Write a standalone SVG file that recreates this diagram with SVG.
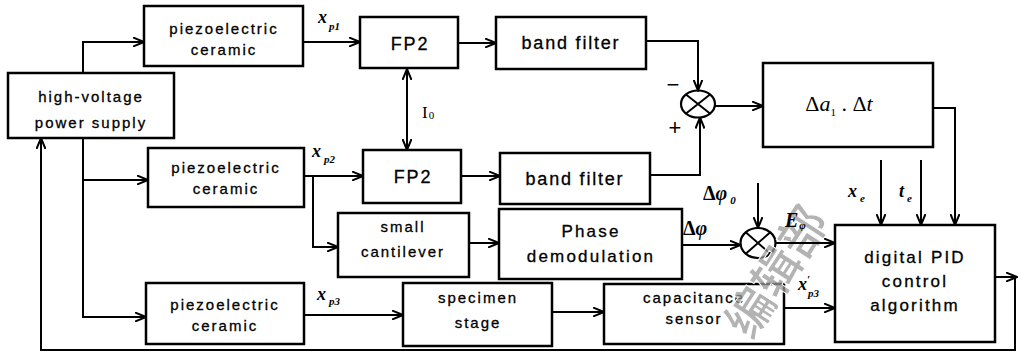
<svg xmlns="http://www.w3.org/2000/svg" width="1021" height="352" viewBox="0 0 1021 352">
  <style>
    .box { fill: #fff; stroke: #000; stroke-width: 2.5; }
    .wire { fill: none; stroke: #000; stroke-width: 2; }
    .lbl { font-family: "Liberation Sans", Arial, sans-serif; font-size: 15px; letter-spacing: 2px; text-anchor: middle; fill: #000; stroke: #000; stroke-width: 0.3; }
    .big { font-size: 18px; letter-spacing: 1.8px; }
    .mid { font-size: 17px; letter-spacing: 2.2px; }
    .math { font-family: "Liberation Serif", "Times New Roman", serif; font-style: italic; font-weight: bold; fill: #000; }
    .plain { font-family: "Liberation Serif", "Times New Roman", serif; font-style: normal; font-weight: normal; fill: #000; }
    .it { font-style: italic; }
    .up { font-style: normal; }
    .sub { font-size: 11px; }
    .sign { font-family: "Liberation Sans", Arial, sans-serif; font-size: 22px; fill: #000; }
    .stamp { font-family: "Noto Sans CJK SC", sans-serif; font-weight: bold; font-size: 48px; fill: #999; fill-opacity: 0.75; stroke: #fff; stroke-width: 1; }
  </style>
  <defs>
    <marker id="arr" viewBox="0 0 12 10" refX="11" refY="5" markerWidth="12" markerHeight="10" markerUnits="userSpaceOnUse" orient="auto-start-reverse">
      <path d="M0,0.5 L11,5 L0,9.5" fill="none" stroke="#000" stroke-width="2"/>
    </marker>
  </defs>

  <!-- blocks -->
  <g id="hv-supply">
    <rect class="box" x="8" y="73" width="166" height="65"/>
    <text class="lbl" x="91" y="102">high-voltage</text>
    <text class="lbl" x="91" y="128">power supply</text>
  </g>
  <g id="piezo-1">
    <rect class="box" x="144" y="6" width="159" height="60"/>
    <text class="lbl" x="224" y="34">piezoelectric</text>
    <text class="lbl" x="224" y="55">ceramic</text>
  </g>
  <g id="piezo-2">
    <rect class="box" x="148" y="148" width="156" height="59"/>
    <text class="lbl" x="226" y="173">piezoelectric</text>
    <text class="lbl" x="226" y="194">ceramic</text>
  </g>
  <g id="piezo-3">
    <rect class="box" x="146" y="283" width="158" height="61"/>
    <text class="lbl" x="225" y="310">piezoelectric</text>
    <text class="lbl" x="225" y="331">ceramic</text>
  </g>
  <g id="fp2-1">
    <rect class="box" x="360" y="17" width="98" height="51"/>
    <text class="lbl big" x="410" y="50">FP2</text>
  </g>
  <g id="fp2-2">
    <rect class="box" x="363" y="150" width="98" height="53"/>
    <text class="lbl big" x="413" y="183">FP2</text>
  </g>
  <g id="band-filter-1">
    <rect class="box" x="496" y="17" width="150" height="52"/>
    <text class="lbl big" x="571" y="49">band filter</text>
  </g>
  <g id="band-filter-2">
    <rect class="box" x="500" y="153" width="150" height="51"/>
    <text class="lbl big" x="575" y="185">band filter</text>
  </g>
  <g id="small-cantilever">
    <rect class="box" x="338" y="213" width="131" height="64"/>
    <text class="lbl" x="403" y="232">small</text>
    <text class="lbl" x="403" y="257">cantilever</text>
  </g>
  <g id="phase-demod">
    <rect class="box" x="499" y="209" width="183" height="70"/>
    <text class="lbl mid" x="591" y="237">Phase</text>
    <text class="lbl mid" x="591" y="262">demodulation</text>
  </g>
  <g id="specimen-stage">
    <rect class="box" x="403" y="283" width="149" height="63"/>
    <text class="lbl" x="478" y="303">specimen</text>
    <text class="lbl" x="478" y="328">stage</text>
  </g>
  <g id="capacitance-sensor">
    <rect class="box" x="604" y="284" width="180" height="60"/>
    <text class="lbl" x="694" y="303">capacitance</text>
    <text class="lbl" x="694" y="324">sensor</text>
  </g>
  <g id="delta-block">
    <rect class="box" x="763" y="63" width="170" height="84"/>
    <text class="plain" x="839" y="111" text-anchor="middle" font-size="22">Δ<tspan class="it">a</tspan><tspan class="sub" dy="5">1</tspan><tspan dy="-5"> . Δ</tspan><tspan class="it">t</tspan></text>
  </g>
  <g id="pid">
    <rect class="box" x="835" y="225" width="160" height="117"/>
    <text class="lbl mid" x="915" y="263">digital PID</text>
    <text class="lbl mid" x="915" y="287">control</text>
    <text class="lbl mid" x="915" y="311">algorithm</text>
  </g>
  <g id="sum-1">
    <ellipse cx="698" cy="104" rx="17" ry="13.5" fill="#fff" stroke="#000" stroke-width="2.2"/>
    <path d="M686,94.5 L710,113.5 M710,94.5 L686,113.5" stroke="#000" stroke-width="2"/>
    <text class="sign" x="673" y="92" text-anchor="middle">−</text>
    <text class="sign" x="675" y="135" text-anchor="middle">+</text>
  </g>
  <g id="sum-2">
    <ellipse cx="758" cy="243" rx="17.5" ry="15" fill="#fff" stroke="#000" stroke-width="2.2"/>
    <path d="M746,232.5 L770,253.5 M770,232.5 L746,253.5" stroke="#000" stroke-width="2"/>
  </g>

  <!-- stamp printed across the lower right -->
  <text class="stamp" x="777" y="289" text-anchor="middle" transform="rotate(-57 777 272)">编辑部</text>

  <!-- connectors -->
  <g id="connectors">
    <path class="wire" d="M83,73 V42 H144" marker-end="url(#arr)"/>
    <path class="wire" d="M83,138 V180 H148" marker-end="url(#arr)"/>
    <path class="wire" d="M83,180 V317 H146" marker-end="url(#arr)"/>
    <path class="wire" d="M303,42 H360" marker-end="url(#arr)"/>
    <path class="wire" d="M458,43 H496" marker-end="url(#arr)"/>
    <path class="wire" d="M646,41 H698 V90.5" marker-end="url(#arr)"/>
    <path class="wire" d="M650,175 H700 V117.5" marker-end="url(#arr)"/>
    <path class="wire" d="M715,106 H763" marker-end="url(#arr)"/>
    <path class="wire" d="M933,108 H955 V225" marker-end="url(#arr)"/>
    <path class="wire" d="M881,160 V225" marker-end="url(#arr)"/>
    <path class="wire" d="M921,160 V225" marker-end="url(#arr)"/>
    <path class="wire" d="M407,69 V150" marker-start="url(#arr)" marker-end="url(#arr)"/>
    <path class="wire" d="M304,176 H363" marker-end="url(#arr)"/>
    <path class="wire" d="M313,176 V247 H338" marker-end="url(#arr)"/>
    <path class="wire" d="M461,176 H500" marker-end="url(#arr)"/>
    <path class="wire" d="M469,243 H499" marker-end="url(#arr)"/>
    <path class="wire" d="M682,245 H740.5" marker-end="url(#arr)"/>
    <path class="wire" d="M758,183 V228" marker-end="url(#arr)"/>
    <path class="wire" d="M775.5,243 H835" marker-end="url(#arr)"/>
    <path class="wire" d="M304,315 H403" marker-end="url(#arr)"/>
    <path class="wire" d="M552,312 H604" marker-end="url(#arr)"/>
    <path class="wire" d="M784,308 H835" marker-end="url(#arr)"/>
    <path class="wire" d="M995,277 H1017" marker-end="url(#arr)"/>
    <path class="wire" d="M1015,277 V350 H41 V138" stroke-width="2.6" marker-end="url(#arr)"/>
  </g>

  <!-- signal labels -->
  <g id="labels">
    <text class="math" x="318" y="23" font-size="18">x<tspan class="sub" dx="2" dy="7">p1</tspan></text>
    <text class="math" x="312" y="157" font-size="18">x<tspan class="sub" dx="3" dy="6">p2</tspan></text>
    <text class="math" x="317" y="300" font-size="18">x<tspan class="sub" dx="3" dy="5">p3</tspan></text>
    <text class="math" x="848" y="197" font-size="18">x<tspan class="sub" dx="3" dy="5">e</tspan></text>
    <text class="math" x="899" y="197" font-size="18">t<tspan class="sub" dx="3" dy="5">e</tspan></text>
    <text class="math" x="683" y="235" font-size="20"><tspan class="up">Δ</tspan>φ</text>
    <text class="math" x="703" y="200" font-size="20"><tspan class="up">Δ</tspan>φ<tspan class="sub" dx="3" dy="4">0</tspan></text>
    <text class="math" x="785" y="227" font-size="20">E<tspan class="sub" dx="1" dy="2">φ</tspan></text>
    <text class="math" x="798" y="290" font-size="18">x<tspan class="sub" dx="0" dy="-7">′</tspan><tspan class="sub" dx="-2" dy="14">p3</tspan></text>
    <text class="plain" x="422" y="118" font-size="17">I<tspan class="sub" dx="1" dy="1">0</tspan></text>
  </g>
</svg>
